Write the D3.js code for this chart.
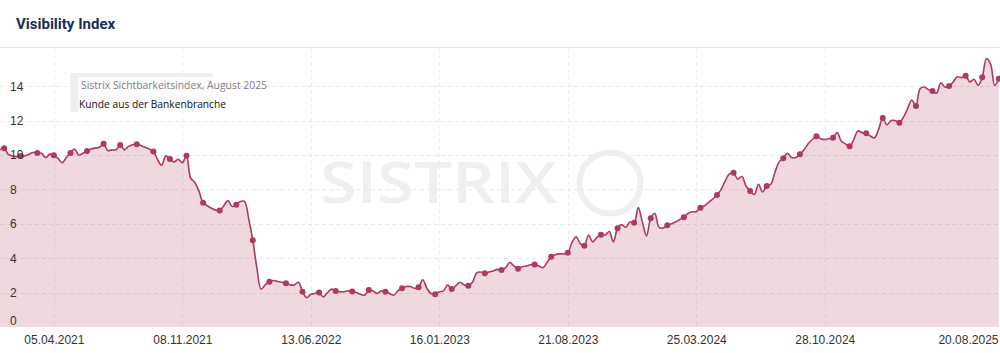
<!DOCTYPE html>
<html>
<head>
<meta charset="utf-8">
<script src="https://cdn.jsdelivr.net/npm/d3@7"></script>
<style>
  html, body { margin: 0; padding: 0; background: #fff; }
  svg { display: block; }
</style>
</head>
<body>
<svg id="chart" width="1000" height="353"></svg>
<script>
// ---------- data ----------
const titleText = "Visibility Index";
const legendTitle = "Sistrix Sichtbarkeitsindex, August 2025";
const legendSeries = "Kunde aus der Bankenbranche";
const startDate = "2021-01-04";   // first weekly value (Monday)
const endDate = "2025-08-20";     // end of x axis
const xTickLabels = ["05.04.2021", "08.11.2021", "13.06.2022", "16.01.2023", "21.08.2023", "25.03.2024", "28.10.2024", "20.08.2025"];
const yTickValues = [0, 2, 4, 6, 8, 10, 12, 14];
const values = [
  10.3, 10.39, 10.04, 9.95, 9.9, 9.94, 9.95, 10.05, 10.15, 10.12,
  10.1, 9.85, 10.05, 9.98, 9.8, 9.55, 9.85, 10.12, 10.35, 10.0,
  10.1, 10.23, 10.35, 10.4, 10.45, 10.66, 10.25, 10.3, 10.3, 10.58,
  10.3, 10.5, 10.6, 10.62, 10.55, 10.45, 10.35, 10.21, 9.75, 9.4,
  9.95, 9.77, 9.6, 9.75, 9.55, 9.96, 8.65, 8.4, 7.9, 7.23,
  7.05, 6.9, 6.8, 6.78, 7.05, 7.35, 7.0, 7.11, 7.3, 7.3,
  6.3, 5.04, 3.4, 2.2, 2.45, 2.63, 2.7, 2.65, 2.6, 2.54,
  2.45, 2.45, 2.6, 2.05, 1.7, 1.9, 1.95, 2.0, 1.75, 2.0,
  2.2, 2.09, 2.05, 2.05, 2.1, 2.07, 2.0, 1.9, 1.85, 2.15,
  2.1, 1.95, 2.1, 2.05, 1.95, 1.85, 2.1, 2.25, 2.35, 2.35,
  2.25, 2.31, 2.75, 2.25, 1.95, 1.9, 2.05, 2.1, 2.45, 2.21,
  2.4, 2.6, 2.45, 2.4, 2.6, 3.15, 3.2, 3.12, 3.2, 3.25,
  3.35, 3.31, 3.45, 3.75, 3.55, 3.39, 3.5, 3.55, 3.62, 3.64,
  3.55, 3.45, 3.75, 4.09, 4.2, 4.25, 4.25, 4.32, 4.9, 5.25,
  4.85, 4.73, 5.35, 4.95, 5.2, 5.37, 5.35, 5.55, 4.95, 5.74,
  5.95, 5.8, 6.1, 6.06, 6.95, 6.1, 5.3, 6.32, 6.6, 5.8,
  5.75, 5.91, 6.0, 6.1, 6.25, 6.38, 6.6, 6.7, 6.7, 6.94,
  7.05, 7.25, 7.45, 7.67, 8.0, 8.5, 8.9, 8.97, 8.6, 8.75,
  8.2, 7.91, 7.7, 8.3, 7.85, 8.2, 8.3, 9.0, 9.6, 9.81,
  10.1, 9.85, 9.85, 10.04, 10.3, 10.65, 10.9, 11.09, 10.95, 10.9,
  10.95, 11.01, 11.3, 10.8, 10.65, 10.51, 10.9, 11.4, 11.3, 11.26,
  11.1, 11.0, 11.5, 12.15, 11.75, 12.0, 12.0, 11.88, 12.2, 12.7,
  13.2, 12.85, 13.85, 13.95, 13.8, 13.72, 13.6, 14.2, 13.95, 14.01,
  14.25, 14.55, 14.5, 14.61, 14.25, 14.4, 14.05, 14.52, 15.6, 15.3,
  14.05, 14.44
];

// ---------- setup ----------
const W = 1000, H = 353;
const lineColor = "#b03a5b";
const parseISO = d3.timeParse("%Y-%m-%d");
const parseDE = d3.timeParse("%d.%m.%Y");
const start = parseISO(startDate);
const dates = values.map((v, i) => d3.timeDay.offset(start, i * 7));
const data = values.map((v, i) => ({ date: dates[i], value: v, i }));
const tickDates = xTickLabels.map(parseDE);

const plotTop = 48, plotBottom = 327;
const x = d3.scaleTime().domain([start, parseISO(endDate)]).range([0, W]);
const y = d3.scaleLinear().domain([0, 16]).range([plotBottom, plotBottom - 17.2 * 16]);

const svg = d3.select("#chart");

// title
svg.append("text")
  .attr("x", 16).attr("y", 29)
  .attr("font-family", "Roboto, 'Liberation Sans', sans-serif")
  .attr("font-weight", 700).attr("font-size", 15)
  .attr("fill", "#1b2e55")
  .text(titleText);

svg.append("line")
  .attr("x1", 0).attr("x2", W).attr("y1", 47.5).attr("y2", 47.5)
  .attr("stroke", "#e6e6e6").attr("stroke-width", 1);

// horizontal grid
const gridG = svg.append("g");
gridG.selectAll("line.h").data(yTickValues.filter(d => d > 0)).join("line")
  .attr("x1", 0).attr("x2", W)
  .attr("y1", d => Math.round(y(d)) + 0.5).attr("y2", d => Math.round(y(d)) + 0.5)
  .attr("stroke", "#e8e8e8").attr("stroke-dasharray", "4,3");
// vertical grid
gridG.selectAll("line.v").data(tickDates.slice(0, -1)).join("line")
  .attr("x1", d => Math.round(x(d)) + 0.5).attr("x2", d => Math.round(x(d)) + 0.5)
  .attr("y1", plotTop).attr("y2", plotBottom)
  .attr("stroke", "#ececec").attr("stroke-dasharray", "4,3");

// watermark
const wm = svg.append("g").attr("fill", "none");
wm.append("text")
  .attr("x", 320).attr("y", 203)
  .attr("font-family", "'Open Sans', 'Liberation Sans', sans-serif")
  .attr("font-weight", 600).attr("font-size", 57)
  .attr("textLength", 237).attr("lengthAdjust", "spacingAndGlyphs")
  .attr("fill", "#efefef")
  .text("SISTRIX");
wm.append("circle").attr("cx", 610).attr("cy", 183).attr("r", 30.5)
  .attr("stroke", "#efefef").attr("stroke-width", 6);

// area + line
const curve = d3.curveCatmullRom.alpha(0.5);
const area = d3.area().x(d => x(d.date)).y0(plotBottom).y1(d => y(d.value)).curve(curve);
const line = d3.line().x(d => x(d.date)).y(d => y(d.value)).curve(curve);

svg.append("path").datum(data).attr("d", area)
  .attr("fill", lineColor).attr("fill-opacity", 0.2);
svg.append("path").datum(data).attr("d", line)
  .attr("fill", "none").attr("stroke", lineColor).attr("stroke-width", 1.6)
  .attr("stroke-linejoin", "round");

svg.append("g").selectAll("circle").data(data.filter(d => d.i % 4 === 1)).join("circle")
  .attr("cx", d => x(d.date)).attr("cy", d => y(d.value)).attr("r", 3)
  .attr("fill", lineColor);

// y axis labels
const yAxis = d3.axisLeft(y).tickValues(yTickValues).tickSize(0).tickFormat(d3.format("d"));
const yG = svg.append("g").attr("transform", "translate(10,0)").call(yAxis);
yG.select(".domain").remove();
yG.selectAll("text")
  .attr("text-anchor", "start").attr("x", 0)
  .attr("font-family", "'Liberation Sans', Arial, sans-serif").attr("font-size", 12)
  .attr("fill", "#333")
  .attr("dy", d => d === 0 ? "-0.25em" : "0.32em");

// x axis labels
const xAxis = d3.axisBottom(x).tickValues(tickDates).tickSize(0).tickFormat(d3.timeFormat("%d.%m.%Y"));
const xG = svg.append("g").attr("transform", `translate(0,${plotBottom})`).call(xAxis);
xG.select(".domain").remove();
xG.selectAll("text")
  .attr("y", 17).attr("dy", 0)
  .attr("font-family", "'Liberation Sans', Arial, sans-serif").attr("font-size", 12)
  .attr("fill", "#333");
xG.selectAll(".tick").filter((d, i, n) => i === n.length - 1).select("text")
  .attr("text-anchor", "end").attr("x", -2);

// legend box
const lg = svg.append("g");
lg.append("rect").attr("x", 70).attr("y", 73).attr("width", 143).attr("height", 39).attr("fill", "#efefef");
lg.append("rect").attr("x", 78).attr("y", 77).attr("width", 135).attr("height", 35).attr("fill", "#fcfcfc");
lg.append("text").attr("x", 81).attr("y", 88.5)
  .attr("font-family", "'Open Sans', sans-serif").attr("font-size", 11)
  .attr("textLength", 186).attr("lengthAdjust", "spacingAndGlyphs")
  .attr("fill", "#808080").text(legendTitle);
lg.append("text").attr("x", 79).attr("y", 108)
  .attr("font-family", "'Open Sans', sans-serif").attr("font-size", 11)
  .attr("textLength", 147).attr("lengthAdjust", "spacingAndGlyphs")
  .attr("fill", "#111").text(legendSeries);
</script>
</body>
</html>
